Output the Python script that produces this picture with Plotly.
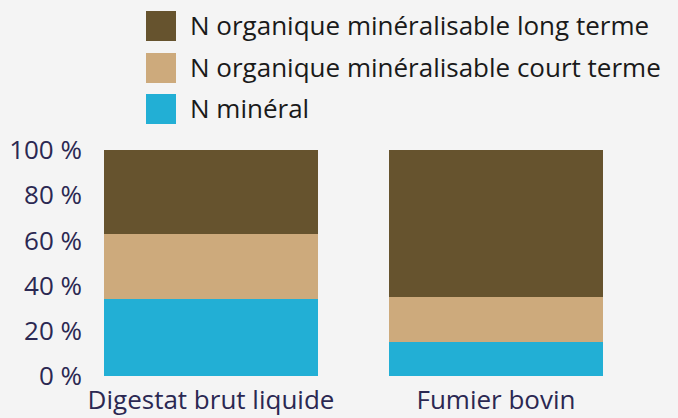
import plotly.graph_objects as go

categories = ["Digestat brut liquide", "Fumier bovin"]
series_names = ["N minéral", "N organique minéralisable court terme", "N organique minéralisable long terme"]
n_mineral = [34, 15]
n_court = [29, 20]
n_long = [37, 65]
y_ticks = [0, 20, 40, 60, 80, 100]
y_tick_labels = ["0 %", "20 %", "40 %", "60 %", "80 %", "100 %"]

colors = ["#22AFD5", "#CDAA7C", "#66532E"]
values = [n_mineral, n_court, n_long]

W, H = 678, 418
L, R, T, B = 83, 60, 150, 42
pw, ph = W - L - R, H - T - B

fig = go.Figure()
for name, vals, col in zip(series_names, values, colors):
    fig.add_trace(go.Bar(x=categories, y=vals, name=name, marker=dict(color=col, line=dict(width=0)),
                         showlegend=False))

# manual legend (large swatches), top-down order: long, court, minéral
legend_order = [2, 1, 0]
row_tops = [11, 53, 94]
for (i, top) in zip(legend_order, row_tops):
    y0 = (H - B - (top + 30)) / ph
    y1 = (H - B - top) / ph
    x0 = (146 - L) / pw
    x1 = (176 - L) / pw
    fig.add_shape(type="rect", xref="paper", yref="paper", x0=x0, x1=x1, y0=y0, y1=y1,
                  fillcolor=colors[i], line=dict(width=0))
    fig.add_annotation(xref="paper", yref="paper", x=(188 - L) / pw, y=(H - B - (top + 14)) / ph,
                       text=series_names[i], showarrow=False, xanchor="left", yanchor="middle",
                       font=dict(size=26, color="#1a1a1a", family="Open Sans"))

px_per_cat = 285
left_val = -(211 - L) / px_per_cat
right_val = left_val + pw / px_per_cat

fig.update_layout(
    width=W, height=H,
    barmode="stack", bargap=0.25,
    paper_bgcolor="#F4F4F4", plot_bgcolor="#F4F4F4",
    margin=dict(l=L, r=R, t=T, b=B, autoexpand=False),
    font=dict(family="Open Sans", size=26, color="#2B2852"),
    xaxis=dict(range=[left_val, right_val], showgrid=False, zeroline=False, showline=False, ticks="",
               automargin=False, ticklabelstandoff=6, tickfont=dict(size=26, color="#2B2852")),
    yaxis=dict(range=[0, 100], tickvals=y_ticks, ticktext=y_tick_labels, showgrid=False,
               automargin=False, zeroline=False, showline=False, ticks="",
               tickfont=dict(size=26, color="#2B2852")),
)

fig.write_html("out.html", config={"displayModeBar": False},
               post_script="document.body.style.margin='0';")
